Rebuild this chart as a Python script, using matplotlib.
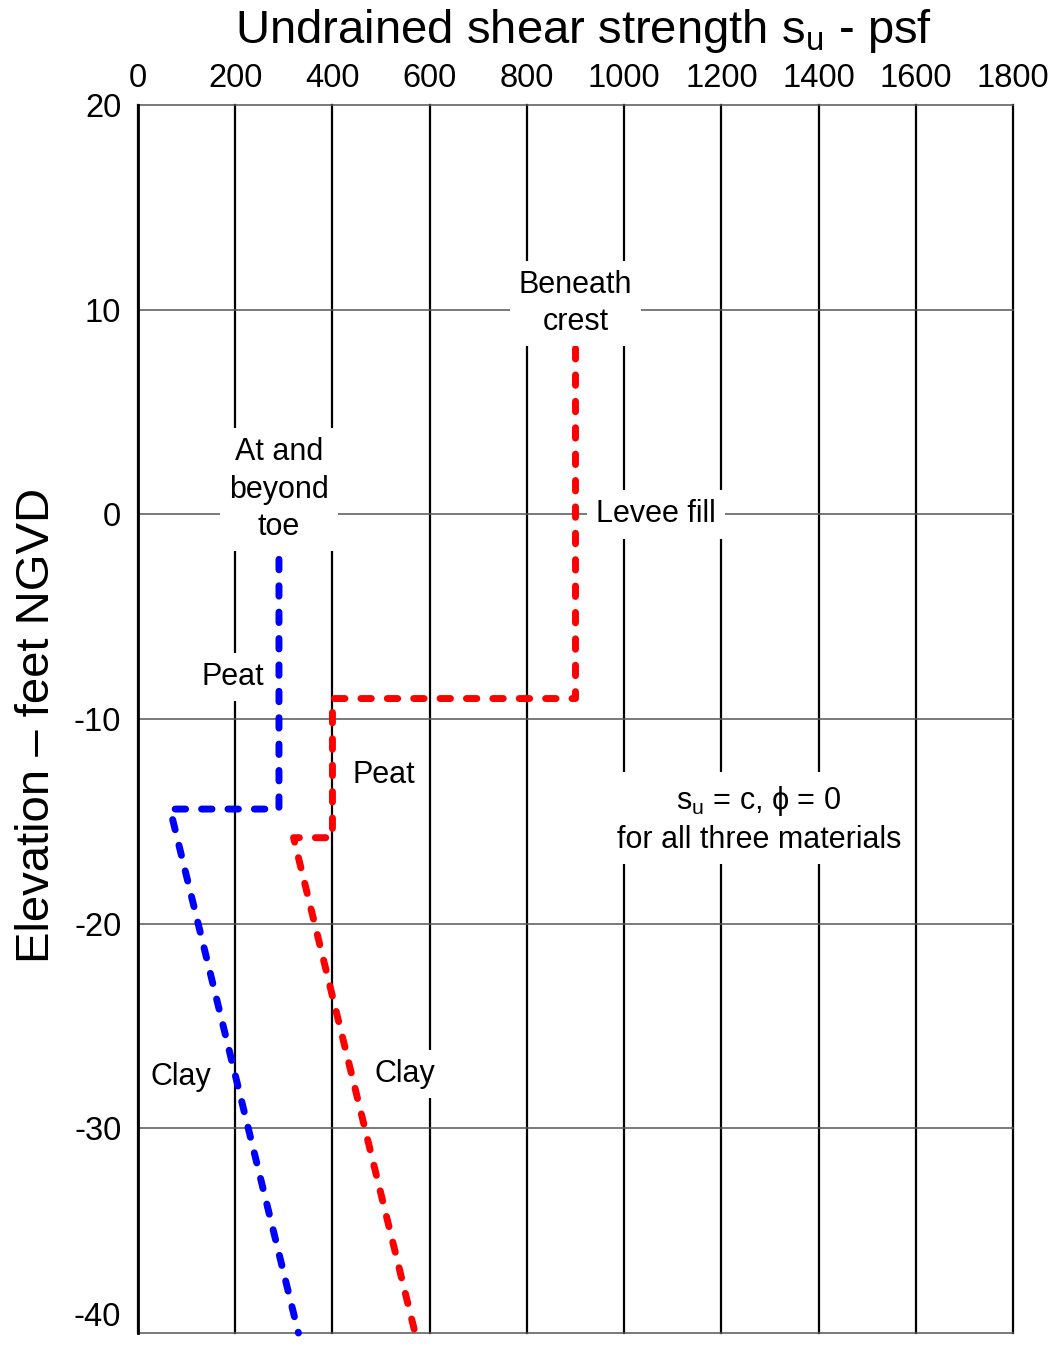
import numpy as np
import matplotlib
matplotlib.use('Agg')
import matplotlib.pyplot as plt

plt.rcParams['font.family'] = ['Liberation Sans', 'DejaVu Sans']
plt.rcParams['mathtext.fontset'] = 'custom'
plt.rcParams['mathtext.rm'] = 'Liberation Sans'
plt.rcParams['mathtext.it'] = 'Liberation Sans'
plt.rcParams['mathtext.fallback'] = 'stixsans'

# strength profiles (psf vs elevation ft)
toe_su = [290, 290, 66, 330]
toe_elev = [-2.2, -14.4, -14.4, -40]
crest_su = [900, 900, 400, 400, 320, 570]
crest_elev = [8.1, -9.0, -9.0, -15.8, -15.8, -40]

x_ticks = [0, 200, 400, 600, 800, 1000, 1200, 1400, 1600, 1800]
y_ticks = [20, 10, 0, -10, -20, -30, -40]

# annotations: text, su, elevation
labels = [
    ('Beneath\ncrest', 900, 10.3),
    ('At and\nbeyond\ntoe', 290, 1.2),
    ('Levee fill', 1065, 0.0),
    ('Peat', 195, -7.95),
    ('Peat', 505, -12.75),
    ('Clay', 88, -27.5),
    ('Clay', 550, -27.35),
    ('s$_\\mathregular{u}$ = c, $\\phi$ = 0\nfor all three materials', 1277, -14.9),
]

fig = plt.figure(figsize=(10.54, 13.46), dpi=100)
ax = fig.add_axes([138 / 1054, 1 - 1333 / 1346, 875 / 1054, 1228 / 1346])

ax.set_xlim(0, 1800)
ax.set_ylim(-40, 20)
ax.set_xticks(x_ticks)
ax.set_yticks(y_ticks)
ax.set_xticklabels([str(t) for t in x_ticks])
ax.set_yticklabels([str(t) for t in y_ticks])
ax.xaxis.tick_top()
ax.tick_params(axis='both', length=0, labelsize=23.5)
ax.tick_params(axis='x', pad=8)
ax.tick_params(axis='y', pad=12)
for lab in ax.get_yticklabels():
    if lab.get_text() == '-40':
        lab.set_va('bottom')

ax.grid(axis='x', color='black', lw=1.6, clip_on=False)
ax.grid(axis='y', color='#555555', lw=1.1, clip_on=False)
ax.set_axisbelow(True)
for s in ['top', 'right', 'bottom']:
    ax.spines[s].set_visible(False)
ax.spines['left'].set_linewidth(2)

ax.plot(toe_su, toe_elev, color='#0000ff', lw=5, dashes=(1.5, 2.3),
        dash_capstyle='round', solid_joinstyle='round', zorder=3, clip_on=False)
ax.plot(crest_su, crest_elev, color='#ff0000', lw=5, dashes=(1.5, 2.3),
        dash_capstyle='round', solid_joinstyle='round', zorder=3, clip_on=False)

for txt, xx, yy in labels:
    ax.text(xx, yy, txt, fontsize=22, ha='center', va='center', linespacing=1.32,
            zorder=4, bbox=dict(boxstyle='square,pad=0.3', fc='white', ec='none'))

fig.text(584 / 1054, 1 - 43 / 1346, 'Undrained shear strength s$_\\mathregular{u}$ - psf',
         fontsize=34, ha='center', va='baseline')
fig.text(37 / 1054, 1 - 725 / 1346, 'Elevation \u2013 feet NGVD', fontsize=34,
         rotation=90, ha='center', va='center')

fig.savefig('out.png', dpi=100)
